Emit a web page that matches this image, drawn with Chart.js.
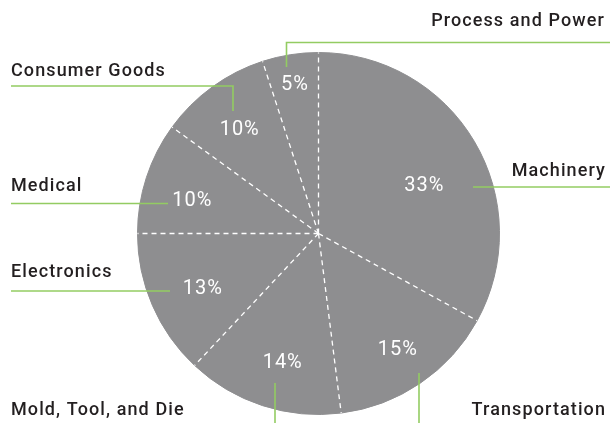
<!DOCTYPE html>
<html>
<head>
<meta charset="utf-8">
<script src="https://cdn.jsdelivr.net/npm/chart.js@4"></script>
<style>
  html, body { margin: 0; padding: 0; background: #fff; }
  #wrap { width: 610px; height: 423px; position: relative; }
</style>
</head>
<body>
<div id="wrap"><canvas id="pie"></canvas></div>
<script>
// data, clockwise from 12 o'clock
const categories = ['Machinery', 'Transportation', 'Mold, Tool, and Die', 'Electronics', 'Medical', 'Consumer Goods', 'Process and Power'];
const shares = [33, 15, 14, 13, 10, 10, 5];

const sliceGray = '#8e8e90';
const leaderGreen = '#93cc62';
const textDark = '#231f20';

// where the percent sits inside each slice (fraction of radius, nudge in degrees)
const pctRadius = [0.64, 0.78, 0.74, 0.71, 0.72, 0.72, 0.83];
const pctNudge = [6.6, 0, -2.5, -2.4, -3.5, -1.2, 0];

// callout text + leader line for each slice (canvas px)
const callouts = [
  { x: 606, y: 171, align: 'right', line: [[610, 187], [473, 187]] },
  { x: 606, y: 410, align: 'right', line: [[419, 373], [419, 423]] },
  { x: 11, y: 410, align: 'left', line: [[275, 383], [275, 423]] },
  { x: 11, y: 272, align: 'left', line: [[11, 291], [170, 291]] },
  { x: 11, y: 186, align: 'left', line: [[11, 203.5], [168, 203.5]] },
  { x: 11, y: 71, align: 'left', line: [[11, 86], [233, 86], [233, 111]] },
  { x: 605, y: 21, align: 'right', line: [[610, 42.5], [286.5, 42.5], [286.5, 67]] }
];

const pieDecor = {
  id: 'pieDecor',
  afterDatasetsDraw(chart) {
    const ctx = chart.ctx;
    const arcs = chart.getDatasetMeta(0).data;
    const cx = arcs[0].x, cy = arcs[0].y, R = arcs[0].outerRadius;

    // dashed white separators
    ctx.save();
    ctx.strokeStyle = '#ffffff';
    ctx.lineWidth = 1.3;
    ctx.setLineDash([5, 4]);
    arcs.forEach(a => {
      ctx.beginPath();
      ctx.moveTo(cx, cy);
      ctx.lineTo(cx + R * Math.cos(a.startAngle), cy + R * Math.sin(a.startAngle));
      ctx.stroke();
    });
    ctx.restore();

    // percentages
    ctx.save();
    ctx.fillStyle = '#ffffff';
    ctx.font = '20px Roboto';
    ctx.letterSpacing = '1px';
    ctx.textAlign = 'center';
    ctx.textBaseline = 'middle';
    arcs.forEach((a, i) => {
      const mid = (a.startAngle + a.endAngle) / 2 + pctNudge[i] * Math.PI / 180;
      const r = R * pctRadius[i];
      ctx.fillText(shares[i] + '%', cx + r * Math.cos(mid), cy + r * Math.sin(mid));
    });
    ctx.restore();

    // leader lines and category names
    ctx.save();
    ctx.strokeStyle = leaderGreen;
    ctx.lineWidth = 1.6;
    ctx.font = '500 18px Roboto';
    ctx.letterSpacing = '1.1px';
    ctx.fillStyle = textDark;
    ctx.textBaseline = 'middle';
    callouts.forEach((c, i) => {
      ctx.beginPath();
      c.line.forEach((p, k) => k ? ctx.lineTo(p[0], p[1]) : ctx.moveTo(p[0], p[1]));
      ctx.stroke();
      ctx.textAlign = c.align;
      ctx.fillText(categories[i], c.x, c.y);
    });
    ctx.restore();
  }
};

new Chart(document.getElementById('pie').getContext('2d'), {
  type: 'pie',
  data: {
    labels: categories,
    datasets: [{
      data: shares,
      backgroundColor: sliceGray,
      borderColor: sliceGray,
      borderWidth: 1
    }]
  },
  options: {
    responsive: true,
    maintainAspectRatio: false,
    animation: false,
    layout: { padding: { top: 52, bottom: 8, left: 27, right: 0 } },
    plugins: {
      legend: { display: false },
      tooltip: { enabled: false }
    }
  },
  plugins: [pieDecor]
});
</script>
</body>
</html>
